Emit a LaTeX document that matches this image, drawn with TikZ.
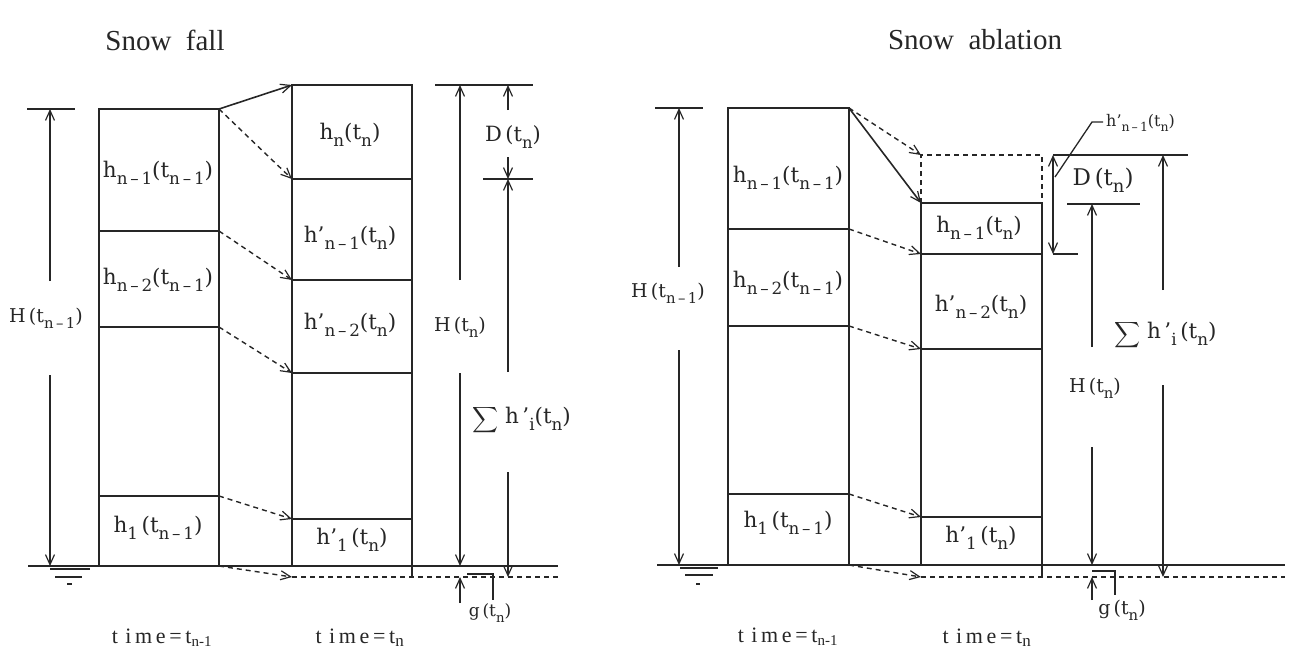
\documentclass[tikz,border=0pt]{standalone}
\usepackage{fontspec}
\setmainfont{DejaVu Serif}
\newfontfamily\tms{Liberation Serif}
\usetikzlibrary{arrows.meta}
\newcommand\sbs[1]{\raisebox{-.3em}{\scalebox{.78}{#1}}}
\newcommand\fs[1]{\fontsize{#1}{#1}\selectfont}
\newcommand\bigsum{\raisebox{-.25em}{\resizebox{26pt}{!}{$\displaystyle\sum$}}}
\begin{document}
\begin{tikzpicture}[x=1pt,y=-1pt,
  ln/.style={line width=1.6pt,draw=black!85},
  dsh/.style={ln,line width=1.4pt,dash pattern=on 5pt off 4pt},
  tip/.tip={Straight Barb[length=10pt,width=9pt,line width=1.2pt]},
  arr/.style={-tip},
  lbl/.style={text=black!85,inner sep=0pt,font=\fs{21.5}},
  sml/.style={text=black!85,inner sep=0pt,font=\fs{19}},
  ttl/.style={text=black!85,inner sep=0pt,font=\tms\fs{29}},
  tim/.style={text=black!85,inner sep=0pt,font=\tms\fs{22}}]
\useasboundingbox (0,0) rectangle (1292,648);
% ================= LEFT: Snow fall =================
\node[ttl] (t1) at (165,40) {Snow\ \ fall};
% left column
\coordinate (a0) at (99,109); \coordinate (a0r) at (219,109);
\coordinate (a1) at (99,231); \coordinate (a1r) at (219,231);
\coordinate (a2) at (99,327); \coordinate (a2r) at (219,327);
\coordinate (a3) at (99,496); \coordinate (a3r) at (219,496);
\coordinate (a4) at (99,566); \coordinate (a4r) at (219,566);
\draw[ln] (a0) rectangle (a4r);
\draw[ln] (a1)--(a1r) (a2)--(a2r) (a3)--(a3r);
% right column
\coordinate (b0) at (292,85); \coordinate (b0r) at (412,85);
\coordinate (b1) at (292,179); \coordinate (b1r) at (412,179);
\coordinate (b2) at (292,280); \coordinate (b2r) at (412,280);
\coordinate (b3) at (292,373); \coordinate (b3r) at (412,373);
\coordinate (b4) at (292,519); \coordinate (b4r) at (412,519);
\coordinate (b5) at (292,566); \coordinate (b5r) at (412,566);
\coordinate (b6) at (292,577); \coordinate (b6r) at (412,577);
\draw[ln] (b0) rectangle (b5r);
\draw[ln] (b1)--(b1r) (b2)--(b2r) (b3)--(b3r) (b4)--(b4r);
\draw[ln,line width=1.2pt] (b5r)--(b6r);
% ground
\coordinate (g0) at (28,566); \coordinate (g1) at (558,566);
\draw[ln] (g0)--(g1);
\coordinate (d1) at (558,577);
\draw[dsh] (b6)--(d1);
\draw[ln,line width=1.3pt] (50,569)--(90,569) (55,577)--(82,577) (67,584)--(72,584);
% transfer arrows
\draw[ln,arr] (a0r)--(b0);
\draw[dsh,arr] (a0r)--(b1);
\draw[dsh,arr] (a1r)--(b2);
\draw[dsh,arr] (a2r)--(b3);
\draw[dsh,arr] (a3r)--(b4);
\draw[dsh,arr] (a4r)--(b6);
% labels in columns
\node[lbl] (la1) at (158,173) {h\sbs{n\,–\,1}(t\sbs{n\,–\,1})};
\node[lbl] (la2) at (158,280) {h\sbs{n\,–\,2}(t\sbs{n\,–\,1})};
\node[lbl] (la3) at (158,528) {h\sbs{1}\,(t\sbs{n\,–\,1})};
\node[lbl] (lb1) at (350,135) {h\sbs{n}(t\sbs{n})};
\node[lbl] (lb2) at (350,238) {h’\sbs{n\,–\,1}(t\sbs{n})};
\node[lbl] (lb3) at (350,325) {h’\sbs{n\,–\,2}(t\sbs{n})};
\node[lbl] (lb4) at (352,540) {h’\sbs{1}\,(t\sbs{n})};
% H(t_{n-1})
\draw[ln] (27,109)--(75,109);
\node[sml] (H1) at (46,318) {H\,(t\sbs{n\,–\,1})};
\coordinate (h1a) at (50,281); \coordinate (h1b) at (50,109);
\coordinate (h1c) at (50,375); \coordinate (h1d) at (50,566);
\draw[ln,arr] (h1a)--(h1b);
\draw[ln,arr] (h1c)--(h1d);
% H(t_n)
\draw[ln] (435,85)--(533,85);
\node[sml] (H2) at (460,327) {H\,(t\sbs{n})};
\draw[ln,arr] (460,280)--(460,85);
\draw[ln,arr] (460,373)--(460,566);
% D(t_n)
\draw[ln] (483,179)--(533,179);
\node[sml,font=\fs{21}] (D1) at (513,137) {D\,(t\sbs{n})};
\draw[ln,arr] (508,110)--(508,85);
\draw[ln,arr] (508,157)--(508,179);
% sum
\node[lbl,anchor=west] (S1) at (472,420) {\bigsum\ h\,’\sbs{i}(t\sbs{n})};
\draw[ln,arr] (508,372)--(508,179);
\draw[ln,arr] (508,472)--(508,577);
% g(t_n)
\draw[ln,arr] (460,603)--(460,577);
\draw[ln,line width=1.3pt] (467,574)--(493,574)--(493,600);
\node[text=black!85,inner sep=0pt,font=\fs{17}] (G1) at (490,613) {g\,(t\sbs{n})};
% time
\node[tim] (T1) at (162,638) {t\,\,i\,m\,e\,=\,t\textsubscript{\fs{15}n-1}};
\node[tim] (T2) at (360,638) {t\,\,i\,m\,e\,=\,t\textsubscript{\fs{17}n}};
% ================= RIGHT: Snow ablation =================
\node[ttl] (t2) at (975,40) {Snow\ \ ablation};
\coordinate (c0) at (728,108); \coordinate (c0r) at (849,108);
\coordinate (c1) at (728,229); \coordinate (c1r) at (849,229);
\coordinate (c2) at (728,326); \coordinate (c2r) at (849,326);
\coordinate (c3) at (728,494); \coordinate (c3r) at (849,494);
\coordinate (c4) at (728,565); \coordinate (c4r) at (849,565);
\draw[ln] (c0) rectangle (c4r);
\draw[ln] (c1)--(c1r) (c2)--(c2r) (c3)--(c3r);
\coordinate (e0) at (921,155); \coordinate (e0r) at (1042,155);
\coordinate (e1) at (921,203); \coordinate (e1r) at (1042,203);
\coordinate (e2) at (921,254); \coordinate (e2r) at (1042,254);
\coordinate (e3) at (921,349); \coordinate (e3r) at (1042,349);
\coordinate (e4) at (921,517); \coordinate (e4r) at (1042,517);
\coordinate (e5) at (921,565); \coordinate (e5r) at (1042,565);
\coordinate (e6) at (921,577); \coordinate (e6r) at (1042,577);
\draw[dsh] (e1)--(e0)--(e0r)--(e1r);
\draw[ln] (e1) rectangle (e5r);
\draw[ln] (e2)--(e2r) (e3)--(e3r) (e4)--(e4r);
\draw[ln,line width=1.2pt] (e5r)--(e6r);
\coordinate (g2) at (657,565); \coordinate (g3) at (1285,565);
\draw[ln] (g2)--(g3);
\coordinate (d2) at (1285,577);
\draw[dsh] (e6)--(d2);
\draw[ln,line width=1.3pt] (680,568)--(718,568) (685,575)--(713,575) (696,584)--(700,584);
% transfers
\draw[ln,arr] (c0r)--(e1);
\draw[dsh,arr] (c0r)--(e0);
\draw[dsh,arr] (c1r)--(e2);
\draw[dsh,arr] (c2r)--(e3);
\draw[dsh,arr] (c3r)--(e4);
\draw[dsh,arr] (c4r)--(e6);
% labels
\node[lbl] (lc1) at (788,178) {h\sbs{n\,–\,1}(t\sbs{n\,–\,1})};
\node[lbl] (lc2) at (788,283) {h\sbs{n\,–\,2}(t\sbs{n\,–\,1})};
\node[lbl] (lc3) at (788,523) {h\sbs{1}\,(t\sbs{n\,–\,1})};
\node[lbl] (le1) at (979,228) {h\sbs{n\,–\,1}(t\sbs{n})};
\node[lbl] (le2) at (981,307) {h’\sbs{n\,–\,2}(t\sbs{n})};
\node[lbl] (le3) at (981,538) {h’\sbs{1}\,(t\sbs{n})};
% H(t_{n-1})
\draw[ln] (655,108)--(703,108);
\node[sml] (H3) at (668,293) {H\,(t\sbs{n\,–\,1})};
\draw[ln,arr] (679,267)--(679,108);
\draw[ln,arr] (679,350)--(679,565);
% D(t_n)
\draw[ln] (1053,155)--(1188,155);
\draw[ln] (1053,254)--(1078,254);
\draw[ln,tip-tip] (1053,155)--(1053,254);
\node[lbl,font=\fs{23}] (D2) at (1103,180) {D\,(t\sbs{n})};
\draw[ln,line width=1.3pt] (1067,204)--(1140,204);
% leader
\coordinate (q0) at (1055,177); \coordinate (q1) at (1092,122); \coordinate (q2) at (1103,122);
\draw[ln,line width=1.3pt] (q0)--(q1)--(q2);
\node[text=black!85,inner sep=0pt,font=\fs{16},anchor=west] (hs) at (1106,123) {h’\sbs{n\,–\,1}(t\sbs{n})};
% H(t_n)
\node[sml] (H4) at (1095,388) {H\,(t\sbs{n})};
\draw[ln,arr] (1092,347)--(1092,204);
\draw[ln,arr] (1092,447)--(1092,565);
% sum
\node[lbl,anchor=west] (S2) at (1114,335) {\bigsum\ h\,’\sbs{i}\,(t\sbs{n})};
\draw[ln,arr] (1163,290)--(1163,155);
\draw[ln,arr] (1163,385)--(1163,577);
% g
\draw[ln,arr] (1092,600)--(1092,577);
\draw[ln,line width=1.3pt] (1092,571)--(1115,571)--(1115,595);
\node[sml] (G2) at (1122,610) {g\,(t\sbs{n})};
% time
\node[tim] (T3) at (788,637) {t\,\,i\,m\,e\,=\,t\textsubscript{\fs{15}n-1}};
\node[tim] (T4) at (987,638) {t\,\,i\,m\,e\,=\,t\textsubscript{\fs{17}n}};
\end{tikzpicture}
\end{document}
